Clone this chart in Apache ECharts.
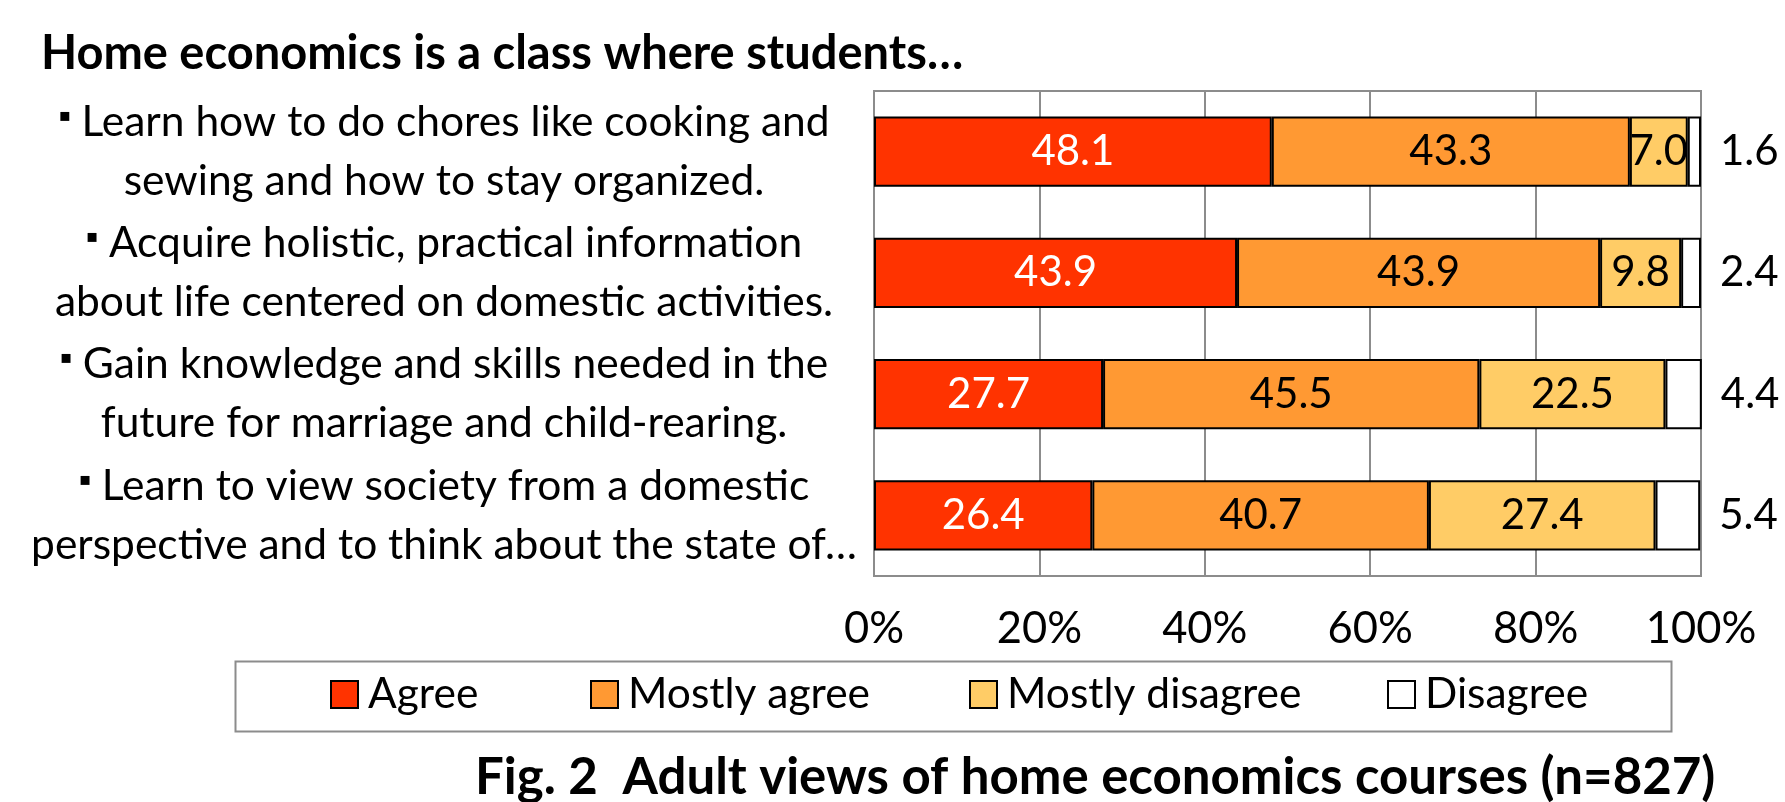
<!DOCTYPE html>
<html><head><meta charset="utf-8">
<script src="https://cdn.jsdelivr.net/npm/echarts@6/dist/echarts.min.js"></script>
<style>html,body{margin:0;padding:0;background:#fff}#c{width:1785px;height:802px}</style>
</head><body><div id="c"></div>
<script>
const categories = [
  "Learn how to do chores like cooking and\nsewing and how to stay organized.",
  "Acquire holistic, practical information\nabout life centered on domestic activities.",
  "Gain knowledge and skills needed in the\nfuture for marriage and child-rearing.",
  "Learn to view society from a domestic\nperspective and to think about the state of…"
];
const seriesNames = ["Agree", "Mostly agree", "Mostly disagree", "Disagree"];
const agree = [48.1, 43.9, 27.7, 26.4];
const mostlyAgree = [43.3, 43.9, 45.5, 40.7];
const mostlyDisagree = [7.0, 9.8, 22.5, 27.4];
const disagree = [1.6, 2.4, 4.4, 5.4];
const colors = ["#FF3300", "#FF9933", "#FFCC66", "#FFFFFF"];
const titleText = "Home economics is a class where students…";
const captionText = "Fig. 2  Adult views of home economics courses (n=827)";

const FONT = "Lato, sans-serif";
const values = [agree, mostlyAgree, mostlyDisagree, disagree];
const chart = echarts.init(document.getElementById('c'), null, {renderer: 'canvas'});
const series = seriesNames.map((name, i) => ({
  name: name,
  type: 'bar',
  stack: 'total',
  data: values[i],
  barCategoryGap: '42%',
  itemStyle: {color: colors[i], borderColor: '#000', borderWidth: 2},
  label: {
    show: true,
    position: i === 3 ? 'right' : 'inside',
    distance: 19,
    color: i === 0 ? '#fff' : '#000',
    fontFamily: FONT,
    fontSize: 42,
    formatter: p => p.value.toFixed(1)
  },
  emphasis: {disabled: true}
}));

const legendLefts = [330, 590, 969, 1387];
const legends = seriesNames.map((n, i) => ({
  data: [n], left: legendLefts[i], top: 673, padding: 0, icon: 'rect', itemWidth: 27, itemHeight: 27,
  itemStyle: {borderColor: '#000', borderWidth: 2},
  selectedMode: false,
  textStyle: {fontFamily: FONT, fontSize: 42.5, color: '#000', padding: [0, 0, 0, 5]}
}));

chart.setOption({
  animation: false,
  backgroundColor: '#fff',
  title: [
    {text: titleText, left: 36, top: 25, textStyle: {fontFamily: FONT, fontWeight: 'bold', fontSize: 47, color: '#000'}},
    {text: captionText, left: 470, top: 747, textStyle: {fontFamily: FONT, fontWeight: 'bold', fontSize: 51, color: '#000'}}
  ],
  grid: {left: 874, top: 91, right: 84, bottom: 226, show: true, borderColor: '#8c8c8c', borderWidth: 2, containLabel: false},
  xAxis: {
    type: 'value', min: 0, max: 100, interval: 20,
    axisLabel: {formatter: v => v + '%', fontFamily: FONT, fontSize: 43.5, color: '#000', margin: 31},
    axisLine: {show: false}, axisTick: {show: false},
    splitLine: {show: true, lineStyle: {color: '#8c8c8c', width: 2}}
  },
  yAxis: {
    type: 'category', data: categories, inverse: true,
    axisLine: {show: true, lineStyle: {color: '#8c8c8c', width: 2}},
    axisTick: {show: false},
    axisLabel: {
      fontFamily: FONT, fontSize: 42.5, color: '#000', align: 'center', margin: 430, lineHeight: 59,
      formatter: v => '{d|▪}' + ' ' + v,
      rich: {d: {fontFamily: 'DejaVu Sans', fontSize: 18, color: '#000', lineHeight: 59, verticalAlign: 'middle', padding: [0, 0, 12, 0]}}
    }
  },
  legend: legends,
  graphic: [{type: 'rect', left: 233, top: 659, shape: {width: 1436, height: 70}, style: {fill: 'none', stroke: '#8c8c8c', lineWidth: 2}, z: -1}],
  series: series
});
</script></body></html>
